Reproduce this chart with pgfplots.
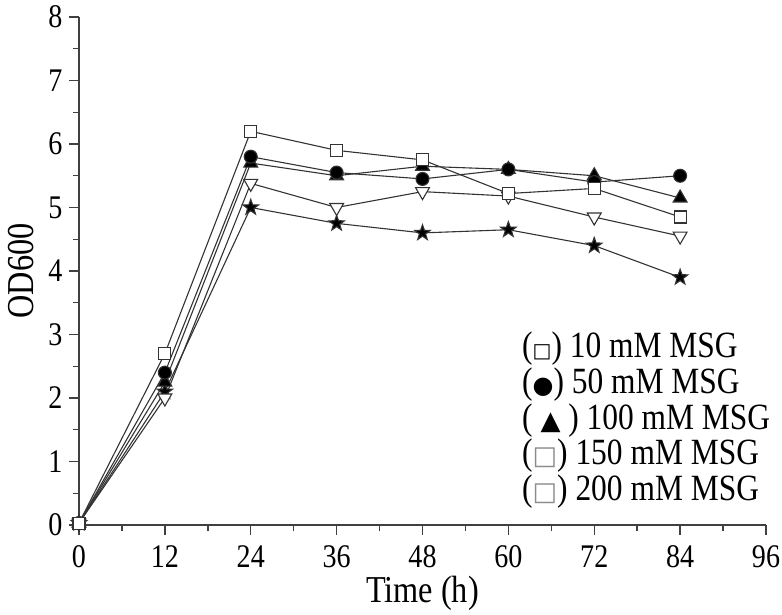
\documentclass[border=0pt]{standalone}
\usepackage{fontspec}
\setmainfont{Liberation Serif}[FakeStretch=0.85]
\newfontfamily\symfont{DejaVu Sans}
\usepackage{pgfplots}
\pgfplotsset{compat=1.18}
\usetikzlibrary{plotmarks}
\pgfdeclareplotmark{fstar}{%
 \pgfpathmoveto{\pgfpointpolar{90}{1.25\pgfplotmarksize}}%
 \pgfpathlineto{\pgfpointpolar{126}{0.5\pgfplotmarksize}}%
 \pgfpathlineto{\pgfpointpolar{162}{1.25\pgfplotmarksize}}%
 \pgfpathlineto{\pgfpointpolar{198}{0.5\pgfplotmarksize}}%
 \pgfpathlineto{\pgfpointpolar{234}{1.25\pgfplotmarksize}}%
 \pgfpathlineto{\pgfpointpolar{270}{0.5\pgfplotmarksize}}%
 \pgfpathlineto{\pgfpointpolar{306}{1.25\pgfplotmarksize}}%
 \pgfpathlineto{\pgfpointpolar{342}{0.5\pgfplotmarksize}}%
 \pgfpathlineto{\pgfpointpolar{18}{1.25\pgfplotmarksize}}%
 \pgfpathlineto{\pgfpointpolar{54}{0.5\pgfplotmarksize}}%
 \pgfpathclose\pgfusepathqfillstroke}
\begin{document}
\begin{tikzpicture}
\begin{axis}[
  scale only axis,
  width=687pt, height=508pt,
  xmin=0, xmax=96, ymin=0, ymax=8,
  axis lines=left, axis line style={-, line width=1.4pt, black!75},
  xtick={0,12,...,96}, ytick={0,1,...,8},
  minor x tick num=1, minor y tick num=1,
  tick align=outside,
  major tick length=10pt, minor tick length=6pt,
  tick style={line width=1.4pt, black!75},
  /pgf/number format/assume math mode=true,
  ticklabel style={font=\fontsize{33}{37}\selectfont},
  xticklabel style={yshift=-7pt},
  yticklabel style={xshift=-3pt},
  xlabel={Time (h)}, ylabel={OD600},
  label style={font=\fontsize{38}{42}\selectfont},
  xlabel style={at={(axis description cs:0.5,-0.134)}, anchor=center},
  ylabel style={at={(axis description cs:-0.085,0.5)}, anchor=center},
  every axis plot/.append style={line width=1.1pt, black!80, mark options={solid, line width=1pt, black}},
  clip=false,
]
% 200 mM (star)
\addplot[mark=fstar, mark size=6.5pt, mark options={fill=black}] coordinates {(0,0.03) (12,2.1) (24,5.0) (36,4.75) (48,4.6) (60,4.65) (72,4.4) (84,3.9)};
% 150 mM (down triangle)
\addplot[mark=triangle*, mark size=8pt, mark options={fill=white, rotate=180}] coordinates {(0,0.03) (12,2.0) (24,5.38) (36,5.0) (48,5.25) (60,5.18) (72,4.85) (84,4.55)};
% 100 mM (triangle)
\addplot[mark=triangle*, mark size=8pt, mark options={fill=black}] coordinates {(0,0.03) (12,2.25) (24,5.7) (36,5.5) (48,5.65) (60,5.6) (72,5.5) (84,5.15)};
% 50 mM (circle)
\addplot[mark=*, mark size=6.5pt, mark options={fill=black}] coordinates {(0,0.03) (12,2.4) (24,5.8) (36,5.55) (48,5.45) (60,5.6) (72,5.4) (84,5.5)};
% 10 mM (square)
\addplot[mark=square*, mark size=6pt, mark options={fill=white}] coordinates {(0,0.03) (12,2.7) (24,6.2) (36,5.9) (48,5.75) (60,5.22) (72,5.3) (84,4.85)};
\node[anchor=base west, inner sep=0pt, font=\fontsize{37}{33}\selectfont]
  at (axis cs:61.9,2.63) {%
  \def\arraystretch{1}\setlength{\tabcolsep}{0pt}%
  \begin{tabular}[t]{l}
  ({\symfont\fontsize{20}{20}\selectfont □}) 10 mM MSG\\
  ({\symfont\fontsize{24}{24}\selectfont ●}) 50 mM MSG\\
  ( {\symfont\fontsize{26}{26}\selectfont ▲} ) 100 mM MSG\\
  ({\symfont\fontsize{26}{26}\selectfont\color{black!45}□}) 150 mM MSG\\
  ({\symfont\fontsize{26}{26}\selectfont\color{black!45}□}) 200 mM MSG
  \end{tabular}};
\end{axis}
\pgfresetboundingbox
\path (current axis.south west) ++(-79pt,-89pt) rectangle ++(782pt,614pt);
\end{tikzpicture}
\end{document}
